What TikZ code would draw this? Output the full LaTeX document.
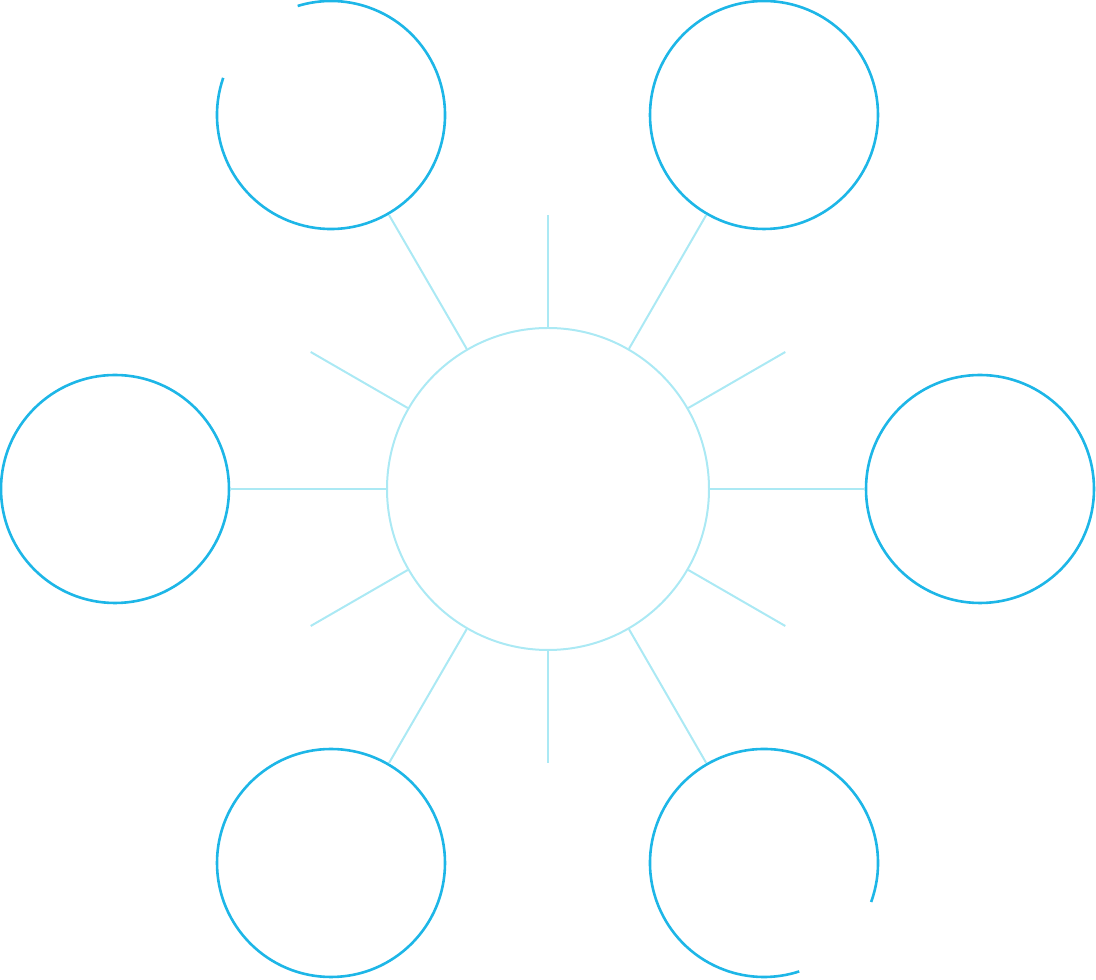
\documentclass[tikz,border=0pt]{standalone}
\usetikzlibrary{calc}
\definecolor{outerblue}{HTML}{1DB6E7}
\definecolor{innerblue}{HTML}{ABE9F4}
\begin{document}
\begin{tikzpicture}[x=1pt,y=1pt,
  outerc/.style={circle,draw=outerblue,line width=2.6pt,minimum size=228pt,inner sep=0pt},
  hidc/.style={circle,draw=none,minimum size=231pt,inner sep=0pt},
  innerc/.style={circle,draw=innerblue,line width=2pt,minimum size=322pt,inner sep=0pt},
  spoke/.style={draw=innerblue,line width=2pt},
  arcline/.style={draw=outerblue,line width=2.6pt}]
\useasboundingbox (0,0) rectangle (1096,980);
\node[innerc] (c) at (548,491) {};
\node[hidc] (tl) at (331,865) {};
\node[outerc] (tr) at (764,865) {};
\node[outerc] (l) at (115,491) {};
\node[outerc] (r) at (980,491) {};
\node[outerc] (bl) at (331,117) {};
\node[hidc] (br) at (764,117) {};
% open circles
\draw[arcline] ($(tl.center)+(161:114)$) arc[start angle=161,end angle=467,radius=114];
\draw[arcline] ($(br.center)+(-20:114)$) arc[start angle=-20,end angle=288,radius=114];
% connectors
\foreach \n in {tl,tr,l,r,bl,br} \draw[spoke] (c) -- (\n);
% short spokes
\foreach \a in {30,90,150,210,270,330} {
  \coordinate (s\a) at ($(c.center)+(\a:274)$);
  \draw[spoke] (c.\a) -- (s\a);
}
\end{tikzpicture}
\end{document}
